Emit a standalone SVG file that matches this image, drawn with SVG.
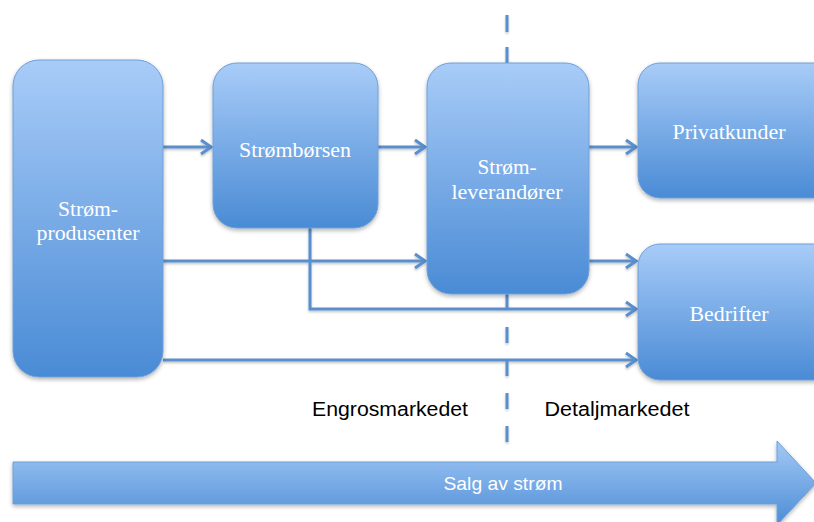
<svg xmlns="http://www.w3.org/2000/svg" width="814" height="522" viewBox="0 0 814 522">
<defs>
<linearGradient id="boxGrad" x1="0" y1="0" x2="0" y2="1">
<stop offset="0" stop-color="#a8ccf8"/>
<stop offset="1" stop-color="#4a8bd5"/>
</linearGradient>
<linearGradient id="bigGrad" x1="0" y1="0" x2="0" y2="1">
<stop offset="0" stop-color="#a3c9f6"/>
<stop offset="1" stop-color="#4d8dd6"/>
</linearGradient>
<filter id="shadow" x="-10%" y="-10%" width="120%" height="130%">
<feDropShadow dx="0" dy="2" stdDeviation="2" flood-color="#000" flood-opacity="0.3"/>
</filter>
<filter id="lshadow" x="-5%" y="-20%" width="110%" height="140%">
<feDropShadow dx="0" dy="1.5" stdDeviation="1" flood-color="#000" flood-opacity="0.25"/>
</filter>
<marker id="arr" markerUnits="userSpaceOnUse" viewBox="0 0 14 18" refX="12" refY="9" markerWidth="14" markerHeight="18" orient="auto">
<path d="M2,2 L12,9 L2,16" fill="none" stroke="#5a8fcd" stroke-width="3"/>
</marker>
<style>
.box{fill:url(#boxGrad);stroke:#6e9fd8;stroke-width:1;filter:url(#shadow)}
.lbl{font-family:"Liberation Serif","DejaVu Serif",serif;font-size:21px;fill:#ffffff;text-anchor:middle}
.cn{fill:none;stroke:#5a8fcd;stroke-width:3}
.dash{fill:none;stroke:#5a8fcd;stroke-width:3}
.mkt{font-family:"Liberation Sans","DejaVu Sans",sans-serif;font-size:19.5px;fill:#000000;text-anchor:middle}
</style>
</defs>
<rect width="814" height="522" fill="#ffffff"/>

<g id="connectors" filter="url(#lshadow)">
<line class="cn" x1="163" y1="147" x2="211" y2="147" marker-end="url(#arr)"/>
<line class="cn" x1="378" y1="147" x2="425" y2="147" marker-end="url(#arr)"/>
<line class="cn" x1="589" y1="147" x2="636" y2="147" marker-end="url(#arr)"/>
<line class="cn" x1="163" y1="261" x2="425" y2="261" marker-end="url(#arr)"/>
<line class="cn" x1="589" y1="261" x2="636" y2="261" marker-end="url(#arr)"/>
<polyline class="cn" points="310,228 310,309 636,309" marker-end="url(#arr)"/>
<line class="cn" x1="163" y1="360" x2="636" y2="360" marker-end="url(#arr)"/>
<line class="dash" x1="507" y1="15" x2="507" y2="63" stroke-dasharray="17 15"/>
<line class="dash" x1="507" y1="294" x2="507" y2="443" stroke-dasharray="16 17"/>
</g>

<g id="produsenter">
<rect class="box" x="13" y="60" width="150" height="317" rx="26"/>
<text class="lbl" x="88" y="216" textLength="60" lengthAdjust="spacingAndGlyphs">Strøm-</text>
<text class="lbl" x="88" y="240" textLength="103" lengthAdjust="spacingAndGlyphs">produsenter</text>
</g>

<g id="borsen">
<rect class="box" x="213" y="63" width="165" height="165" rx="24"/>
<text class="lbl" x="295" y="157" textLength="112" lengthAdjust="spacingAndGlyphs">Strømbørsen</text>
</g>

<g id="leverandorer">
<rect class="box" x="427" y="63" width="162" height="231" rx="24"/>
<text class="lbl" x="507" y="174" textLength="59" lengthAdjust="spacingAndGlyphs">Strøm-</text>
<text class="lbl" x="507" y="199" textLength="111" lengthAdjust="spacingAndGlyphs">leverandører</text>
</g>

<g id="privatkunder">
<rect class="box" x="638" y="63" width="200" height="135" rx="22"/>
<text class="lbl" x="729" y="139" textLength="113" lengthAdjust="spacingAndGlyphs">Privatkunder</text>
</g>

<g id="bedrifter">
<rect class="box" x="638" y="244" width="200" height="136" rx="22"/>
<text class="lbl" x="729" y="321" textLength="79" lengthAdjust="spacingAndGlyphs">Bedrifter</text>
</g>

<g id="markets">
<text class="mkt" x="390" y="416" textLength="156" lengthAdjust="spacingAndGlyphs">Engrosmarkedet</text>
<text class="mkt" x="617" y="416" textLength="145" lengthAdjust="spacingAndGlyphs">Detaljmarkedet</text>
</g>

<g id="salg">
<polygon points="13,462 777,462 777,441 816,483 777,525 777,504 13,504" fill="url(#bigGrad)" stroke="#6e9fd8" stroke-width="1" filter="url(#shadow)"/>
<text x="503" y="490" font-family="Liberation Sans, DejaVu Sans, sans-serif" font-size="19" fill="#ffffff" text-anchor="middle" textLength="119" lengthAdjust="spacingAndGlyphs">Salg av strøm</text>
</g>
</svg>
